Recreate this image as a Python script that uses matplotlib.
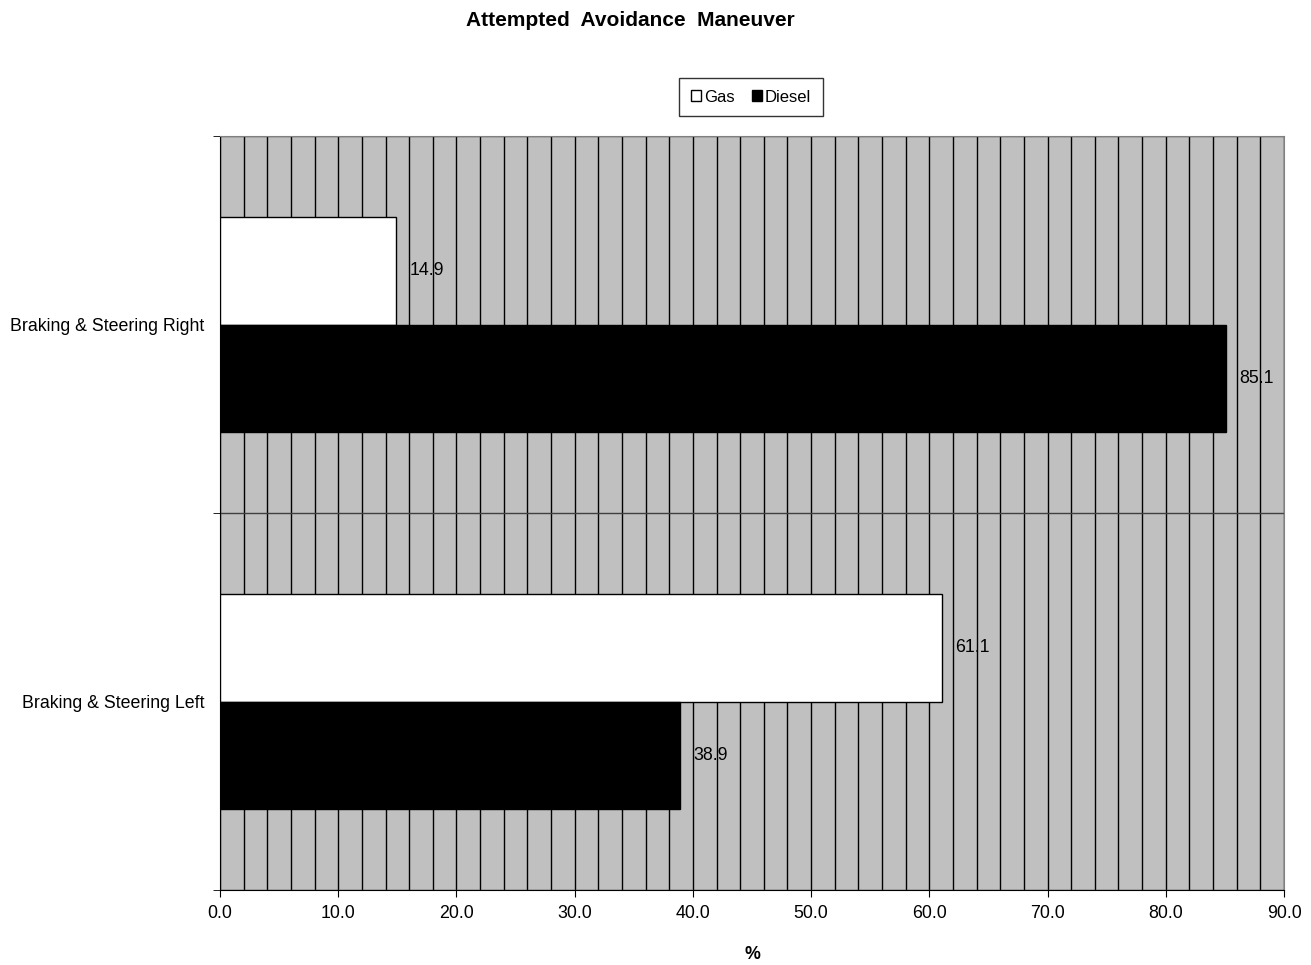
import numpy as np
import matplotlib.pyplot as plt
from matplotlib.ticker import MultipleLocator

plt.rcParams['font.family'] = ['Liberation Sans', 'DejaVu Sans']

categories = ["Braking & Steering Left", "Braking & Steering Right"]
gas = [61.1, 14.9]
diesel = [38.9, 85.1]

fig = plt.figure(figsize=(13.11, 9.65), dpi=100)
ax = fig.add_axes([220 / 1311, 1 - 890 / 965, (1284 - 220) / 1311, (890 - 136) / 965])
ax.set_facecolor("#c0c0c0")

y = np.arange(len(categories))
h = 0.284
ax.barh(y + h / 2, gas, height=h, color="white", edgecolor="black", linewidth=1, label="Gas", zorder=3)
ax.barh(y - h / 2, diesel, height=h, color="black", edgecolor="black", linewidth=1, label="Diesel", zorder=3)

for yi, v in zip(y + h / 2, gas):
    ax.text(v + 1.1, yi, f"{v:.1f}", va="center", ha="left", fontsize=12.8, zorder=4)
for yi, v in zip(y - h / 2, diesel):
    ax.text(v + 1.1, yi, f"{v:.1f}", va="center", ha="left", fontsize=12.8, zorder=4)

ax.set_xlim(0, 90)
ax.set_ylim(-0.5, len(categories) - 0.5)
ax.xaxis.set_major_locator(MultipleLocator(10))
ax.xaxis.set_minor_locator(MultipleLocator(2))
ax.set_xticklabels([f"{t:.1f}" for t in ax.get_xticks()])
ax.set_yticks(y)
ax.set_yticklabels(categories)
ax.set_yticks(np.arange(-0.5, len(categories), 1.0), minor=True)
ax.tick_params(axis="y", which="major", length=0, labelsize=12.8, pad=11)
ax.tick_params(axis="y", which="minor", length=5, direction="out")
ax.tick_params(axis="x", which="major", length=5, direction="out", labelsize=12.8, pad=6)
ax.tick_params(axis="x", which="minor", length=0)

ax.grid(True, axis="x", which="both", color="black", linewidth=1, zorder=1)
ax.grid(True, axis="y", which="minor", color="#404040", linewidth=1, zorder=1)
ax.set_axisbelow(True)

for s in ["top", "right"]:
    ax.spines[s].set_color("#808080")
ax.spines["left"].set_color("black")
ax.spines["bottom"].set_color("black")

ax.set_xlabel("%", fontsize=12.8, fontweight="bold", labelpad=17)
fig.text(630 / 1311, 1 - 21 / 965, "Attempted  Avoidance  Maneuver", ha="center", va="center",
         fontsize=15, fontweight="bold")

leg = ax.legend(loc="center", bbox_to_anchor=(751 / 1311, 1 - 97 / 965), bbox_transform=fig.transFigure,
                ncol=2, fontsize=12, frameon=True, fancybox=False, edgecolor="black",
                handlelength=0.6, handleheight=0.6, handletextpad=0.2, columnspacing=1.0,
                borderpad=0.7)
leg.get_frame().set_linewidth(1)

fig.savefig("out.png", dpi=100, facecolor="white")
